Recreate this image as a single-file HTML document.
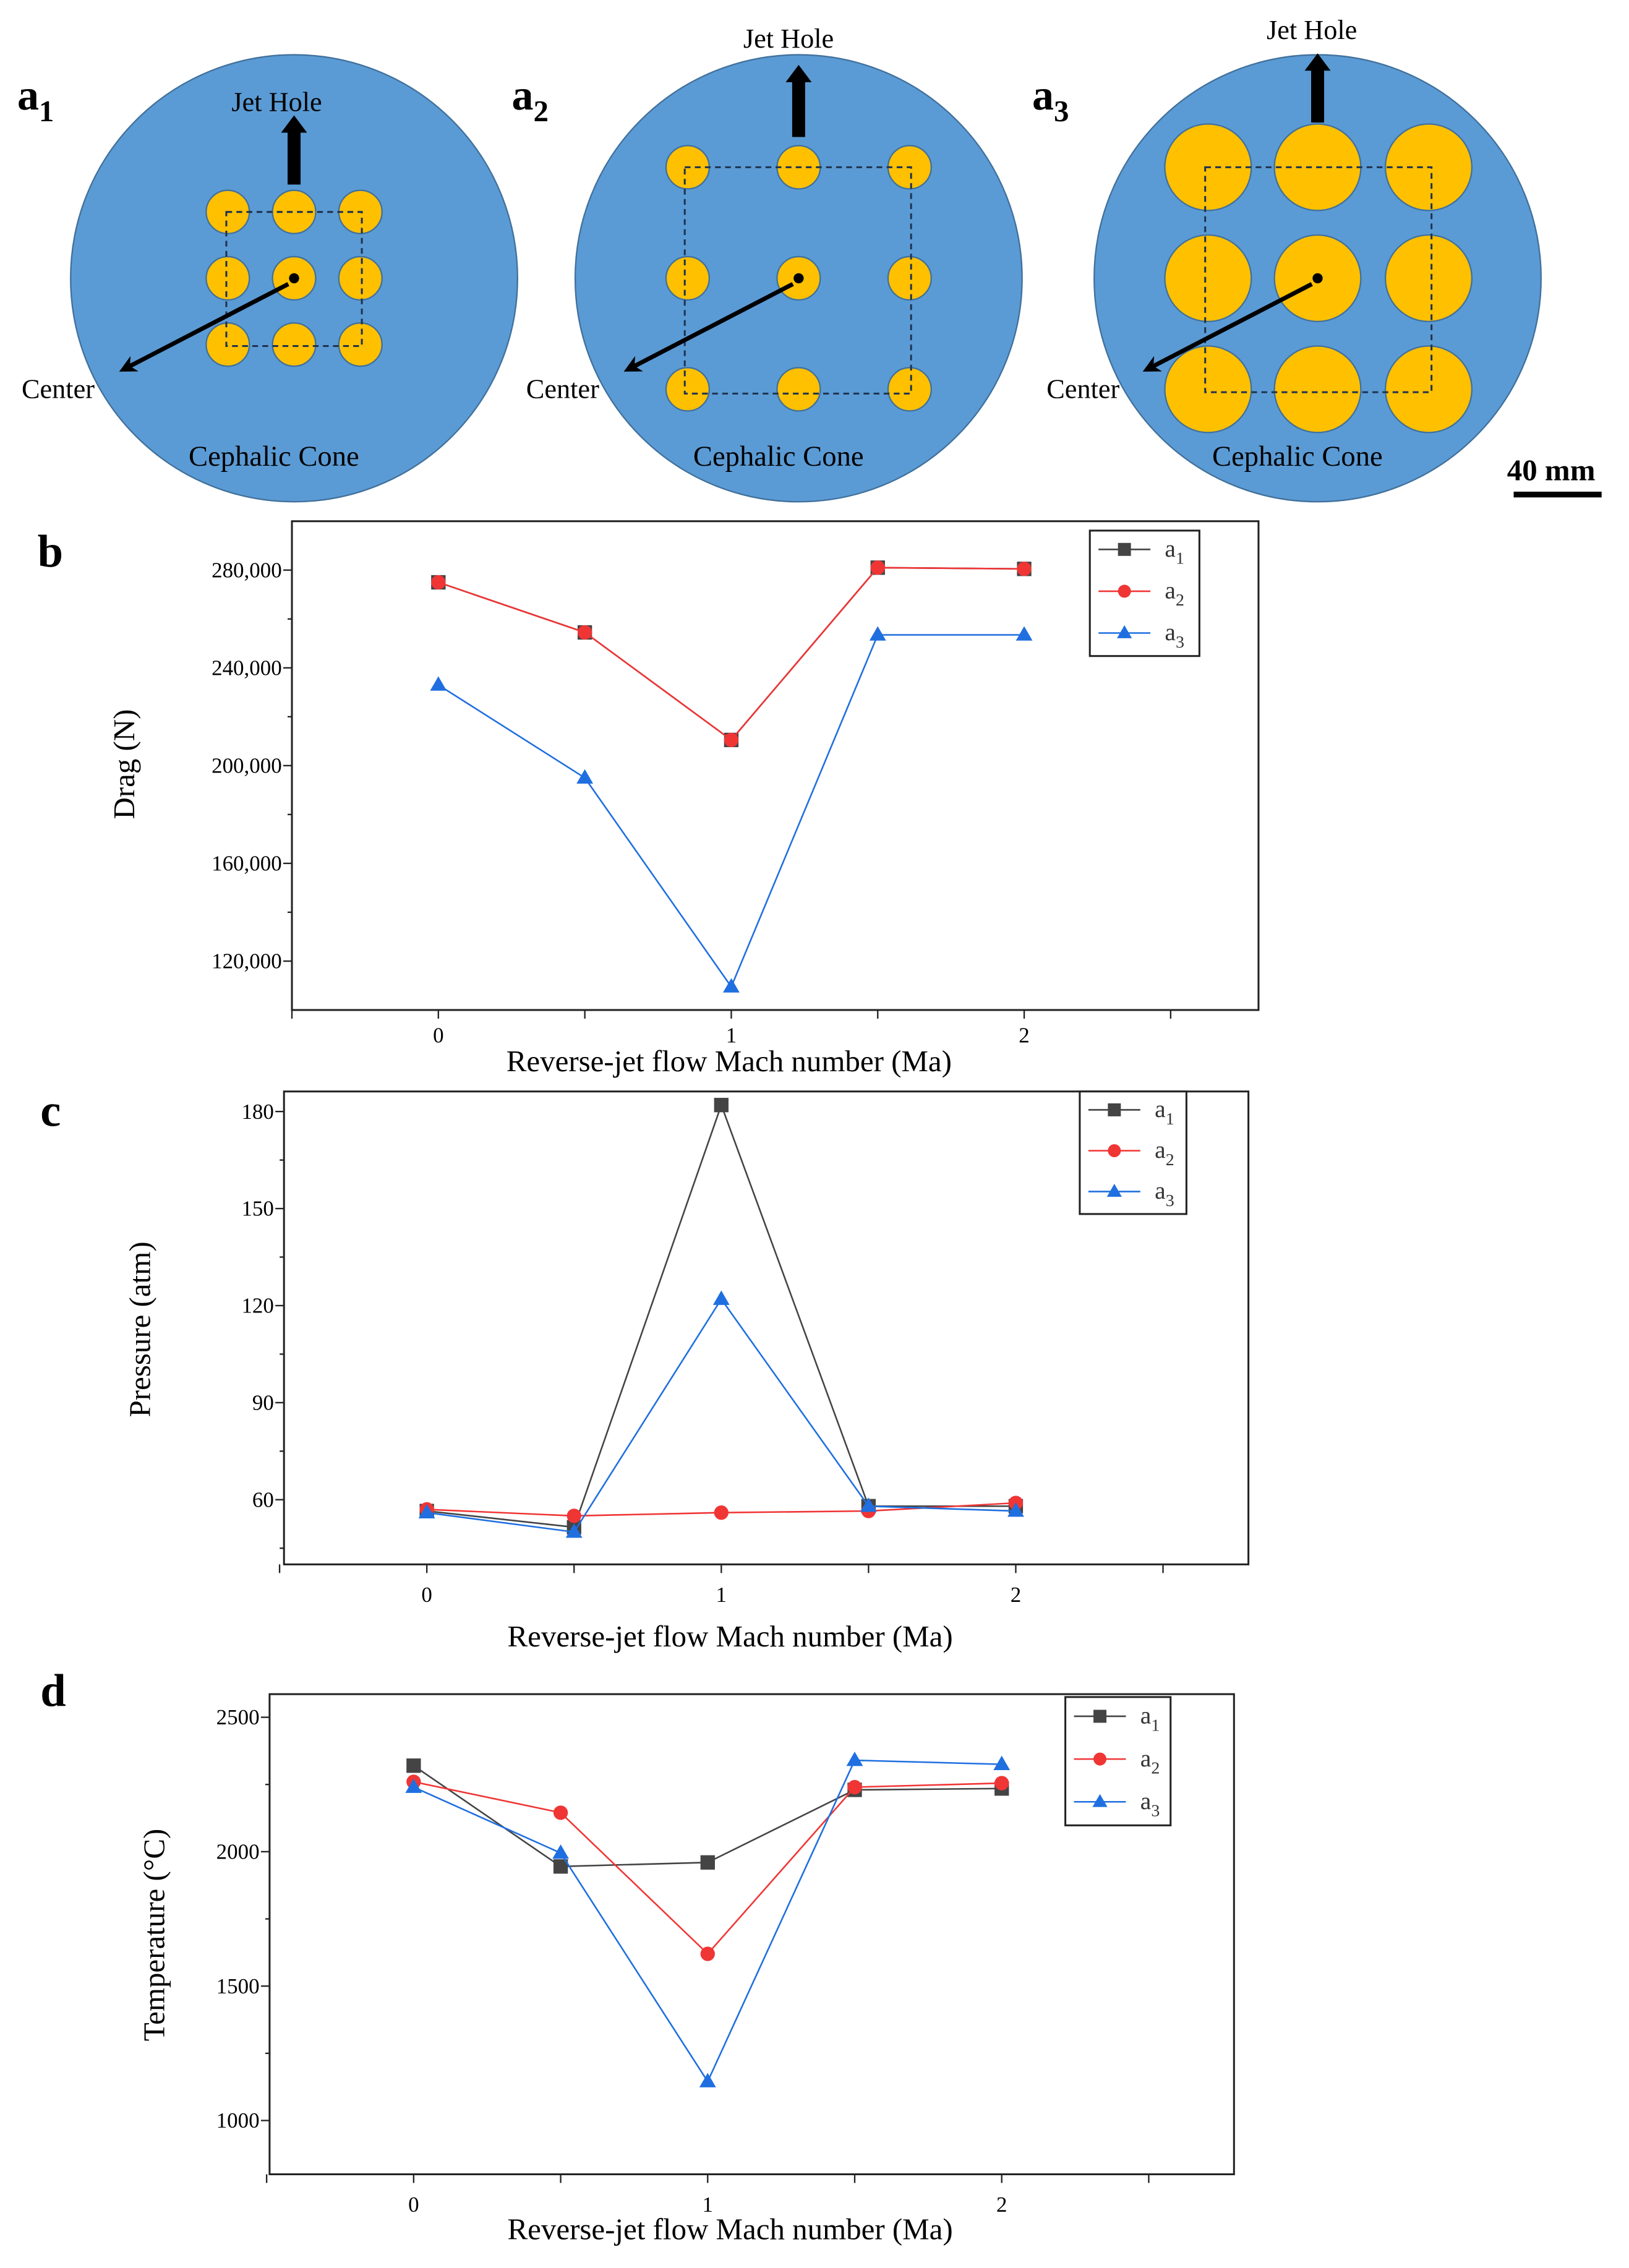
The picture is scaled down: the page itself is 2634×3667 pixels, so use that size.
<!DOCTYPE html>
<html><head><meta charset="utf-8">
<style>
html,body{margin:0;padding:0;background:#fff;}
svg{display:block;font-family:"Liberation Serif",serif;}
</style></head>
<body>
<svg id="fig" width="2634" height="3667" viewBox="0 0 1130 1573" preserveAspectRatio="none" xmlns="http://www.w3.org/2000/svg">
<defs>
<marker id="ah" viewBox="0 0 10 10" refX="5" refY="5" markerWidth="4" markerHeight="4" orient="auto"><path d="M0,0 L10,5 L0,10 L3,5 z" fill="#000"/></marker>
</defs>
<g id="diagrams"></g>
<g id="charts"></g>
</svg>
<script>
// ---------- chart data ----------
const machNumbers = [0, 0.5, 1, 1.5, 2];
const seriesNames = ["a1", "a2", "a3"];
const dragA1 = [275000, 254500, 210500, 281000, 280500];
const dragA2 = [275000, 254500, 210500, 281000, 280500];
const dragA3 = [233000, 195000, 109500, 253500, 253500];
const dragTicks = [120000, 160000, 200000, 240000, 280000];
const dragTickLabels = ["120,000", "160,000", "200,000", "240,000", "280,000"];
const pressA1 = [56.5, 51.5, 182, 58, 58];
const pressA2 = [57, 55, 56, 56.5, 59];
const pressA3 = [56, 50, 122, 58, 56.5];
const pressTicks = [60, 90, 120, 150, 180];
const pressTickLabels = ["60", "90", "120", "150", "180"];
const tempA1 = [2320, 1945, 1960, 2230, 2235];
const tempA2 = [2260, 2145, 1620, 2240, 2255];
const tempA3 = [2240, 1995, 1145, 2340, 2325];
const tempTicks = [1000, 1500, 2000, 2500];
const tempTickLabels = ["1000", "1500", "2000", "2500"];
const xTicks = [0, 1, 2];
const xTickLabels = ["0", "1", "2"];

const NS = "http://www.w3.org/2000/svg";
function mk(tag, attrs, parent, txt){
  const e = document.createElementNS(NS, tag);
  for (const k in attrs) e.setAttribute(k, attrs[k]);
  if (txt !== undefined) e.textContent = txt;
  parent.appendChild(e);
  return e;
}

// ---------- diagrams ----------
const dg = document.getElementById('diagrams');
const diagrams = [
  {cx:204, cy:193, hx:[158,204,250], hy:[147,193,239], hr:15, rect:[157,147,251,240], arrowTop:80, arrowBot:128, jx:192, jy:77, lx:12, label:"1", cxT:15},
  {cx:554, cy:193, hx:[477,554,631], hy:[116,193,270], hr:15, rect:[475,116,632,273], arrowTop:45, arrowBot:95, jx:547, jy:33, lx:355, label:"2", cxT:365},
  {cx:914, cy:193, hx:[838,914,991], hy:[116,193,270], hr:30, rect:[836,116,993,272], arrowTop:37, arrowBot:85, jx:910, jy:27, lx:716, label:"3", cxT:726}
];
diagrams.forEach((d,i)=>{
  const g = mk('g', {}, dg);
  
  
  const c = mk('circle', {cx:d.cx, cy:d.cy, r:155, fill:'#5b9bd5', stroke:'#41719c', 'stroke-width':1}, g);
  
  
  d.hy.forEach(y=>d.hx.forEach(x=>{
    if (i===1 && y===193 && x!==554 && false) return;
    const h = mk('circle', {cx:x, cy:y, r:d.hr, fill:'#ffc000', stroke:'#41719c', 'stroke-width':1}, g);
    
    
  }));
  const r = d.rect;
  mk('rect', {x:r[0], y:r[1], width:r[2]-r[0], height:r[3]-r[1], fill:'none', stroke:'#1f3350', 'stroke-width':1.3, 'stroke-dasharray':'4,3'}, g);
  mk('circle', {cx:d.cx, cy:d.cy, r:3.5, fill:'#000'}, g);
  // up arrow
  const w = 4.5;
  mk('path', {d:`M${d.cx-w},${d.arrowBot} L${d.cx-w},${d.arrowTop+12} L${d.cx-9},${d.arrowTop+12} L${d.cx},${d.arrowTop} L${d.cx+9},${d.arrowTop+12} L${d.cx+w},${d.arrowTop+12} L${d.cx+w},${d.arrowBot} z`, fill:'#000'}, g);
  // center arrow
  mk('line', {x1:d.cx-4, y1:d.cy+4, x2:d.cx-116, y2:d.cy+62, stroke:'#000', 'stroke-width':3, 'marker-end':'url(#ah)'}, g);
  const jt = mk('text', {x:d.jx, y:d.jy, 'font-size':19, 'text-anchor':'middle'}, g, 'Jet Hole');
  
  
  const ct = mk('text', {x:d.cxT, y:276, 'font-size':19}, g, 'Center');
  
  
  const cc = mk('text', {x:d.cx-14, y:323, 'font-size':20, 'text-anchor':'middle'}, g, 'Cephalic Cone');
  
  
  const lt = mk('text', {x:d.lx, y:76, 'font-size':30, 'font-weight':'bold'}, g);
  
  
  mk('tspan', {}, lt, 'a');
  mk('tspan', {'font-size':21, dy:8}, lt, d.label);
});
const sbt = mk('text', {x:1076, y:333, 'font-size':21, 'font-weight':'bold', 'text-anchor':'middle'}, dg, '40 mm');


const sb = mk('rect', {x:1050, y:341, width:61, height:4, fill:'#000'}, dg);



// ---------- charts ----------
const colors = ['#444444', '#f03535', '#1f6fe0'];
const cg = document.getElementById('charts');
function chart(o){
  const g = mk('g', {}, cg);
  
  
  const L=o.box[0], T=o.box[1], R=o.box[2], B=o.box[3];
  const xs = v => L + (v - o.xmin)/(o.xmax - o.xmin)*(R-L);
  const ys = v => B - (v - o.ymin)/(o.ymax - o.ymin)*(B-T);
  const frame = mk('rect', {x:L, y:T, width:R-L, height:B-T, fill:'none', stroke:'#222', 'stroke-width':1.3}, g);
  
  
  // y ticks
  o.yt.forEach((v,k)=>{
    mk('line', {x1:L-6, y1:ys(v), x2:L, y2:ys(v), stroke:'#222', 'stroke-width':1}, g);
    const t = mk('text', {x:L-7, y:ys(v)+5, 'font-size':15, 'text-anchor':'end'}, g, o.ytl[k]);
    
    
    const m = v + o.minor;
    if (ys(m) > T) mk('line', {x1:L-3, y1:ys(m), x2:L, y2:ys(m), stroke:'#222', 'stroke-width':1}, g);
    const m2 = v - o.minor;
    if (k===0 && ys(m2) < B) mk('line', {x1:L-3, y1:ys(m2), x2:L, y2:ys(m2), stroke:'#222', 'stroke-width':1}, g);
  });
  // x ticks
  for (let v=-0.5; v<=2.5; v+=0.5){
    mk('line', {x1:xs(v), y1:B, x2:xs(v), y2:B+6, stroke:'#222', 'stroke-width':1}, g);
  }
  xTicks.forEach((v,k)=>{
    const t = mk('text', {x:xs(v), y:o.xlabY, 'font-size':15, 'text-anchor':'middle'}, g, xTickLabels[k]);
    
    
  });
  const xt = mk('text', {x:(L+R)/2 + o.xtOff, y:o.xtY, 'font-size':21, 'text-anchor':'middle'}, g, 'Reverse-jet flow Mach number (Ma)');
  
  
  const yt = mk('text', {x:o.ytX, y:o.ytY, 'font-size':21, 'text-anchor':'middle', transform:`rotate(-90 ${o.ytX} ${o.ytY})`}, g, o.ytitle);
  
  
  const pl = mk('text', {x:o.plX, y:o.plY, 'font-size':32, 'font-weight':'bold'}, g, o.letter);
  
  
  // series
  function marker(parent, k, x, y, s){
    if (k===0) return mk('rect', {x:x-s, y:y-s, width:2*s, height:2*s, fill:colors[0]}, parent);
    if (k===1) return mk('circle', {cx:x, cy:y, r:s, fill:colors[1]}, parent);
    return mk('path', {d:`M${x},${y-s*1.2} L${x+s*1.15},${y+s*0.8} L${x-s*1.15},${y+s*0.8} z`, fill:colors[2]}, parent);
  }
  o.series.forEach((vals,k)=>{
    const sg = mk('g', {}, g);
    
    
    const pts = vals.map((v,j)=>xs(machNumbers[j]).toFixed(2)+','+ys(v).toFixed(2)).join(' ');
    const ln = mk('polyline', {points:pts, fill:'none', stroke:colors[k], 'stroke-width':1.1}, sg);
    
    
    vals.forEach((v,j)=>{
      const m = marker(sg, k, xs(machNumbers[j]), ys(v), 5);
      
      
    });
  });
  // legend
  const lg = mk('g', {}, g);
  
  
  const lb = o.leg;
  mk('rect', {x:lb[0], y:lb[1], width:lb[2]-lb[0], height:lb[3]-lb[1], fill:'#fff', stroke:'#222', 'stroke-width':1.3}, lg);
  const step = (lb[3]-lb[1])/3;
  seriesNames.forEach((n,k)=>{
    const e = mk('g', {}, lg);
    
    
    const y = lb[1] + step*(k+0.45);
    mk('line', {x1:lb[0]+6, y1:y, x2:lb[0]+42, y2:y, stroke:colors[k], 'stroke-width':1.1}, e);
    marker(e, k, lb[0]+24, y, 4.5);
    const t = mk('text', {x:lb[0]+52, y:y+5, 'font-size':17, fill:'#333'}, e);
    mk('tspan', {}, t, 'a');
    mk('tspan', {'font-size':12, dy:5}, t, String(k+1));
  });
}
chart({name:'drag-chart', letter:'b', box:[202.5,361.5,873,700.5], xmin:-0.5, xmax:2.8, ymin:100000, ymax:300000,
  yt:dragTicks, ytl:dragTickLabels, minor:20000, series:[dragA1,dragA2,dragA3],
  xlabY:723, xtY:743, xtOff:-32, ytitle:'Drag (N)', ytX:93, ytY:530, plX:26, plY:393, leg:[756,368,832,455]});
chart({name:'pressure-chart', letter:'c', box:[197,757,866,1085], xmin:-0.485, xmax:2.79, ymin:40, ymax:186.2,
  yt:pressTicks, ytl:pressTickLabels, minor:15, series:[pressA1,pressA2,pressA3],
  xlabY:1111, xtY:1142, xtOff:-25, ytitle:'Pressure (atm)', ytX:104, ytY:922, plX:28, plY:781, leg:[749,757,823,842]});
chart({name:'temperature-chart', letter:'d', box:[187,1175,856,1508], xmin:-0.49, xmax:2.79, ymin:800, ymax:2586,
  yt:tempTicks, ytl:tempTickLabels, minor:250, series:[tempA1,tempA2,tempA3],
  xlabY:1534, xtY:1553, xtOff:-15, ytitle:'Temperature (°C)', ytX:114, ytY:1342, plX:28, plY:1183, leg:[739,1177,812,1266]});
</script>
</body></html>
